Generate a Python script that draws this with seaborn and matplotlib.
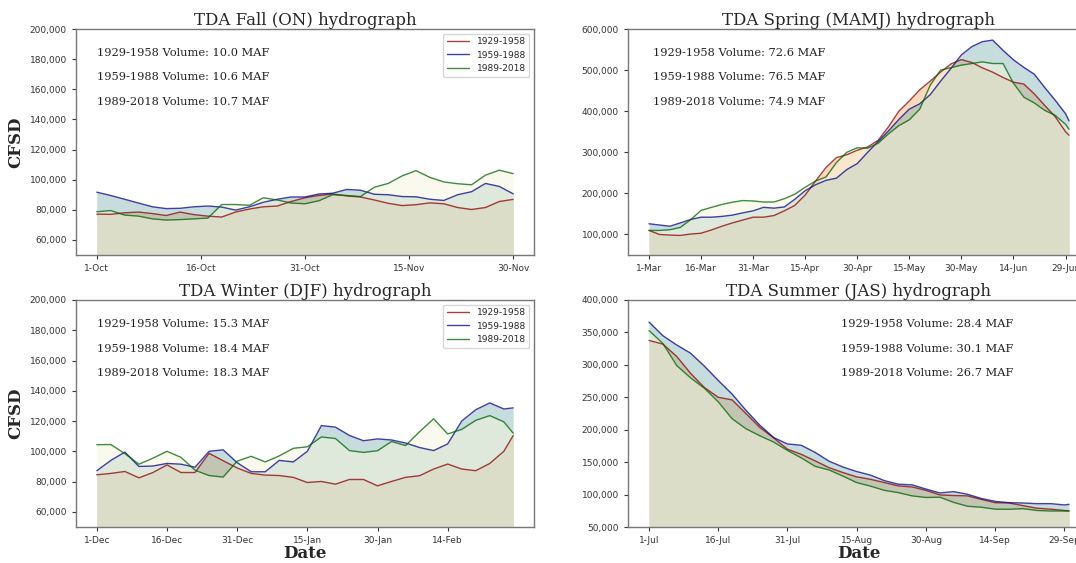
import numpy as np
import pandas as pd
import seaborn as sns
import matplotlib
matplotlib.use("Agg")
import matplotlib.pyplot as plt
from matplotlib.ticker import StrMethodFormatter

sns.set_style("ticks")
plt.rcParams['font.family'] = ['DejaVu Sans']

# flows in thousands of CFSD
periods = ['1929-1958', '1959-1988', '1989-2018']

fall_days = list(range(0, 61, 2))
fall_1929 = [77.1, 77.0, 78.0, 78.5, 77.5, 76.2, 78.5, 76.8, 75.8, 75.2,
             78.5, 80.5, 82.0, 82.5, 85.5, 88.0, 89.5, 90.5, 89.2, 88.5,
             86.5, 84.3, 82.8, 83.4, 84.6, 84.0, 81.5, 80.2, 81.5, 85.5, 86.9]
fall_1959 = [91.7, 89.5, 87.0, 84.5, 82.0, 80.8, 81.0, 82.0, 82.5, 81.8,
             79.8, 82.0, 85.0, 87.0, 88.5, 88.5, 90.5, 91.0, 93.5, 93.0,
             90.3, 90.0, 88.8, 88.6, 87.0, 86.2, 90.0, 92.0, 97.5, 95.5, 90.6]
fall_1989 = [78.7, 79.5, 76.5, 75.8, 74.0, 73.2, 73.5, 74.0, 74.5, 83.5,
             83.5, 83.0, 88.0, 86.5, 84.5, 84.0, 86.0, 90.0, 89.5, 88.8,
             95.0, 97.5, 102.5, 106.0, 101.5, 98.5, 97.3, 96.6, 103.0, 106.3, 104.0]
fall_ticks = ['1-Oct', '16-Oct', '31-Oct', '15-Nov', '30-Nov']
fall_volumes = [10.0, 10.6, 10.7]

spring_days = list(range(0, 121, 3)) + [121]
spring_1929 = [109.8, 100, 98.5, 97.6, 101, 103, 111, 120, 128, 135,
               142, 142, 146, 157.5, 170.7, 196, 230, 263, 287, 294,
               305, 313, 329, 362, 400, 425, 452, 473, 495, 515,
               525.5, 518.5, 505.5, 495, 482, 470.5, 466, 442, 414, 387, 350, 341.5]
spring_1959 = [126, 123, 120, 128, 136.5, 142, 142, 143.9, 147, 152.5,
               157.5, 166, 164, 167, 185.5, 206.5, 221, 231.7, 237, 258,
               272.4, 300, 326, 352, 380, 405, 418, 440, 473, 504,
               537, 557, 569, 573, 548, 525, 506.5, 490, 457.7, 426.8, 394, 376.5]
spring_1989 = [109.8, 109.8, 111.5, 117, 136, 158.5, 166, 173, 178.5, 182.5,
               181.5, 178.9, 179, 187, 198, 215, 230, 240, 275, 300,
               311, 310, 322, 345, 365, 379, 405, 463, 500, 506,
               512, 516, 520, 516, 516, 468, 434, 420, 402, 390, 368, 356]
spring_ticks = ['1-Mar', '16-Mar', '31-Mar', '15-Apr', '30-Apr', '15-May',
                '30-May', '14-Jun', '29-Jun']
spring_volumes = [72.6, 76.5, 74.9]

winter_days = list(range(0, 88, 3)) + [89]
winter_1929 = [84.5, 85.4, 86.7, 82.5, 86.0, 91.0, 86.0, 86.0, 98.7, 93.8,
               89.0, 85.4, 84.3, 84.0, 82.8, 79.4, 80.1, 78.3, 81.4, 81.4,
               77.2, 80.1, 82.8, 83.9, 88.3, 91.6, 88.3, 87.2, 92.0, 100.0, 110.4]
winter_1959 = [87.2, 94.0, 99.5, 90.0, 90.3, 92.0, 91.5, 89.5, 100.0, 101.0,
               92.5, 86.5, 86.5, 94.0, 93.0, 100.0, 117.0, 116.0, 110.5, 107.0,
               108.2, 107.5, 105.5, 102.5, 100.5, 104.9, 120.0, 127.5, 132.0, 128.0, 128.7]
winter_1989 = [104.4, 104.5, 98.5, 91.5, 95.5, 100.0, 96.0, 87.5, 84.0, 83.0,
               93.5, 96.7, 93.0, 97.0, 102.0, 103.0, 109.5, 108.5, 100.5, 99.3,
               100.4, 106.5, 103.8, 113.0, 121.5, 111.5, 114.5, 120.5, 123.6, 119.5, 112.0]
winter_ticks = ['1-Dec', '16-Dec', '31-Dec', '15-Jan', '30-Jan', '14-Feb']
winter_volumes = [15.3, 18.4, 18.3]

summer_days = list(range(0, 91, 3)) + [91]
summer_1929 = [337.6, 332, 313, 287, 265, 250, 246, 225, 203.6, 187.5,
               170, 162, 152, 141.5, 134, 127.3, 123.5, 118.5, 113.4, 111.8,
               106.5, 99.5, 98.5, 98, 92.5, 87.5, 87, 83, 79, 77.5, 75.5, 74.7]
summer_1959 = [366, 345, 330.7, 318, 298, 276, 255, 230, 207, 188,
               178, 176, 165, 151.5, 142.5, 135.5, 130, 121.5, 116, 115,
               108.5, 102.5, 104.5, 100.5, 94, 89.5, 87.5, 87, 86, 86, 84, 85]
summer_1989 = [353, 333, 299, 280, 264, 243, 217, 201.5, 190.7, 181,
               168, 156.5, 143.5, 138, 128.5, 118.5, 113, 106.5, 103, 98,
               95.5, 96, 88, 82, 80.5, 77.5, 77.3, 78.3, 75.5, 74.7, 74.7, 74.7]
summer_ticks = ['1-Jul', '16-Jul', '31-Jul', '15-Aug', '30-Aug', '14-Sep', '29-Sep']
summer_volumes = [28.4, 30.1, 26.7]

line_colors = ['darkred', 'darkblue', 'darkgreen']
fill_colors = ['sandybrown', 'cadetblue', 'beige']
fill_alpha = [0.4, 0.35, 0.5]

panels = [
    dict(title='TDA Fall (ON) hydrograph', days=fall_days,
         series=[fall_1929, fall_1959, fall_1989], ticks=fall_ticks,
         vols=fall_volumes, ylim=(50000, 200000), yt=np.arange(60000, 200001, 20000),
         pos=[76, 29, 458, 226], legend=True, ylab=True, xlab=False, tx=0.045),
    dict(title='TDA Spring (MAMJ) hydrograph', days=spring_days,
         series=[spring_1929, spring_1959, spring_1989], ticks=spring_ticks,
         vols=spring_volumes, ylim=(50000, 600000), yt=np.arange(100000, 600001, 100000),
         pos=[628, 29, 462, 226], legend=False, ylab=False, xlab=False, tx=0.055),
    dict(title='TDA Winter (DJF) hydrograph', days=winter_days,
         series=[winter_1929, winter_1959, winter_1989], ticks=winter_ticks,
         vols=winter_volumes, ylim=(50000, 200000), yt=np.arange(60000, 200001, 20000),
         pos=[76, 300, 458, 227], legend=True, ylab=True, xlab=True, tx=0.045),
    dict(title='TDA Summer (JAS) hydrograph', days=summer_days,
         series=[summer_1929, summer_1959, summer_1989], ticks=summer_ticks,
         vols=summer_volumes, ylim=(50000, 400000), yt=np.arange(50000, 400001, 50000),
         pos=[628, 300, 462, 227], legend=False, ylab=False, xlab=True, tx=0.46),
]

W, H = 1076, 563
fig = plt.figure(figsize=(W / 100, H / 100), dpi=100)
serif = 'DejaVu Serif'

for p in panels:
    l, t, w, h = p['pos']
    ax = fig.add_axes([l / W, 1 - (t + h) / H, w / W, h / H])
    frames = []
    for name, vals in zip(periods, p['series']):
        frames.append(pd.DataFrame({'day': p['days'], 'flow': np.array(vals) * 1000, 'Period': name}))
    df = pd.concat(frames)
    for i, name in enumerate(periods):
        sub = df[df['Period'] == name]
        ax.fill_between(sub['day'], 0, sub['flow'], color=fill_colors[i], alpha=fill_alpha[i], lw=0)
    for i, name in enumerate(periods):
        sub = df[df['Period'] == name]
        sns.lineplot(data=sub, x='day', y='flow', ax=ax, color=line_colors[i], alpha=0.75,
                     lw=1.0, label=name if p['legend'] else None)
    ax.set_ylim(*p['ylim'])
    ax.set_yticks(p['yt'])
    ax.yaxis.set_major_formatter(StrMethodFormatter('{x:,.0f}'))
    ax.set_xticks(np.arange(len(p['ticks'])) * 15)
    ax.set_xticklabels(p['ticks'])
    ax.tick_params(labelsize=6.5, colors='#333333', length=3)
    for s in ax.spines.values():
        s.set_color('#777777')
        s.set_linewidth(1.0)
    ax.set_title(p['title'], family=serif, fontsize=12, pad=3)
    ax.set_ylabel('CFSD' if p['ylab'] else '', family=serif, fontsize=12, fontweight='bold')
    ax.set_xlabel('Date' if p['xlab'] else '', family=serif, fontsize=12, fontweight='bold', labelpad=0)
    for k, (name, v) in enumerate(zip(periods, p['vols'])):
        ax.text(p['tx'], 0.895 - 0.109 * k, f'{name} Volume: {v:.1f} MAF', transform=ax.transAxes,
                family=serif, fontsize=8.2, va='center', color='#222222')
    if p['legend']:
        ax.legend(loc='upper right', fontsize=6.5, frameon=True, handlelength=2.5)
    elif ax.get_legend() is not None:
        ax.get_legend().remove()

fig.savefig('out.png', dpi=100)
